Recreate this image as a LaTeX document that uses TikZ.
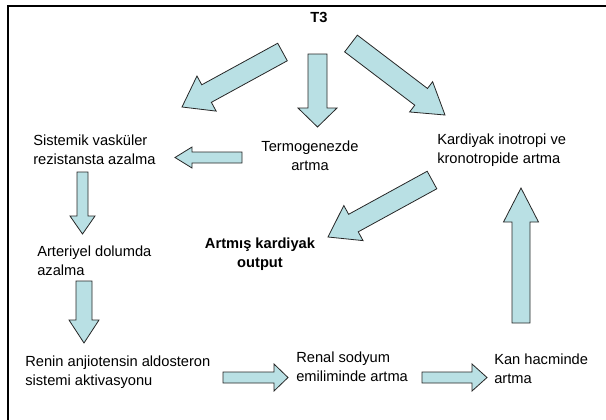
\documentclass[tikz,border=0pt]{standalone}
\usepackage{fontspec}
\setmainfont{Liberation Sans}
\usetikzlibrary{calc}

\definecolor{arrowfill}{RGB}{185,224,228}

% block arrow: tail, tip, shaft width, head width, head length (px)
\newcommand{\blockarrow}[5]{%
  \pgfmathsetmacro\halfshaft{0.375*#3}%
  \pgfmathsetmacro\halfhead{0.375*#4}%
  \pgfmathsetmacro\headlen{0.75*#5}%
  \coordinate (neck) at ($(#2)!\headlen pt!(#1)$);
  \draw[barrow] ($(#1)!\halfshaft pt!90:(#2)$)
    -- ($(neck)!\halfshaft pt!90:(#2)$)
    -- ($(neck)!\halfhead pt!90:(#2)$)
    -- (#2)
    -- ($(neck)!\halfhead pt!-90:(#2)$)
    -- ($(neck)!\halfshaft pt!-90:(#2)$)
    -- ($(#1)!\halfshaft pt!-90:(#2)$) -- cycle;
}

\begin{document}
\begin{tikzpicture}[
        x=0.75pt, y=-0.75pt,
        every node/.style={font=\fontsize{11}{14.25}\selectfont, inner sep=0pt},
        txt/.style={align=left, anchor=west},
        boldtxt/.style={font=\fontsize{11}{14.25}\selectfont\bfseries, align=center},
        barrow/.style={draw=black!85, fill=arrowfill, line width=0.6pt, line join=miter}
        ]
        \useasboundingbox (0,0) rectangle (606,419);
        \draw[line width=1.5pt] (7.5,425) |- (612,5.5);

        \node[boldtxt] (t3) at (319,17) {T3};
        \node[txt] (svr) at (33,150) {Sistemik vasküler\\rezistansta azalma};
        \node[align=center] (thermo) at (310,156) {Termogenezde\\artma};
        \node[txt] (kard) at (437,150) {Kardiyak inotropi ve\\kronotropide artma};
        \node[boldtxt] (output) at (260,254) {Artmış kardiyak\\output};
        \node[txt] (arter) at (37,261) {Arteriyel dolumda\\azalma};
        \node[txt] (renin) at (25,372) {Renin anjiotensin aldosteron\\sistemi aktivasyonu};
        \node[txt] (renal) at (296,367) {Renal sodyum\\emiliminde artma};
        \node[txt] (kan) at (494,369) {Kan hacminde\\artma};

        % arrow ends
        \coordinate (t3a) at (282.5,52);   \coordinate (svra) at (182,107);
        \coordinate (t3b) at (317.5,54);   \coordinate (thermob) at (317.5,127);
        \coordinate (t3c) at (351,43.5);   \coordinate (kardc) at (445,115);
        \coordinate (thermod) at (242,157.5); \coordinate (svrd) at (175,157.5);
        \coordinate (karde) at (432,180);  \coordinate (outpute) at (328,237);
        \coordinate (svrf) at (82.5,172);  \coordinate (arterf) at (82.5,234);
        \coordinate (arterg) at (84,281);  \coordinate (rening) at (84,343);
        \coordinate (reninh) at (223,377.5); \coordinate (renalh) at (288,377.5);
        \coordinate (renali) at (422,377.5); \coordinate (kani) at (487,377.5);
        \coordinate (kanj) at (521,323);   \coordinate (kardj) at (521,188);

        \blockarrow{t3a}{svra}{20}{40}{28}
        \blockarrow{t3b}{thermob}{19}{39}{19}
        \blockarrow{t3c}{kardc}{21}{38}{30}
        \blockarrow{thermod}{svrd}{11}{21}{17}
        \blockarrow{karde}{outpute}{20}{40}{29}
        \blockarrow{svrf}{arterf}{11}{25}{18}
        \blockarrow{arterg}{rening}{16}{30}{23}
        \blockarrow{reninh}{renalh}{11}{27}{14}
        \blockarrow{renali}{kani}{11}{27}{15}
        \blockarrow{kanj}{kardj}{18}{35}{34}

    \end{tikzpicture}
\end{document}
